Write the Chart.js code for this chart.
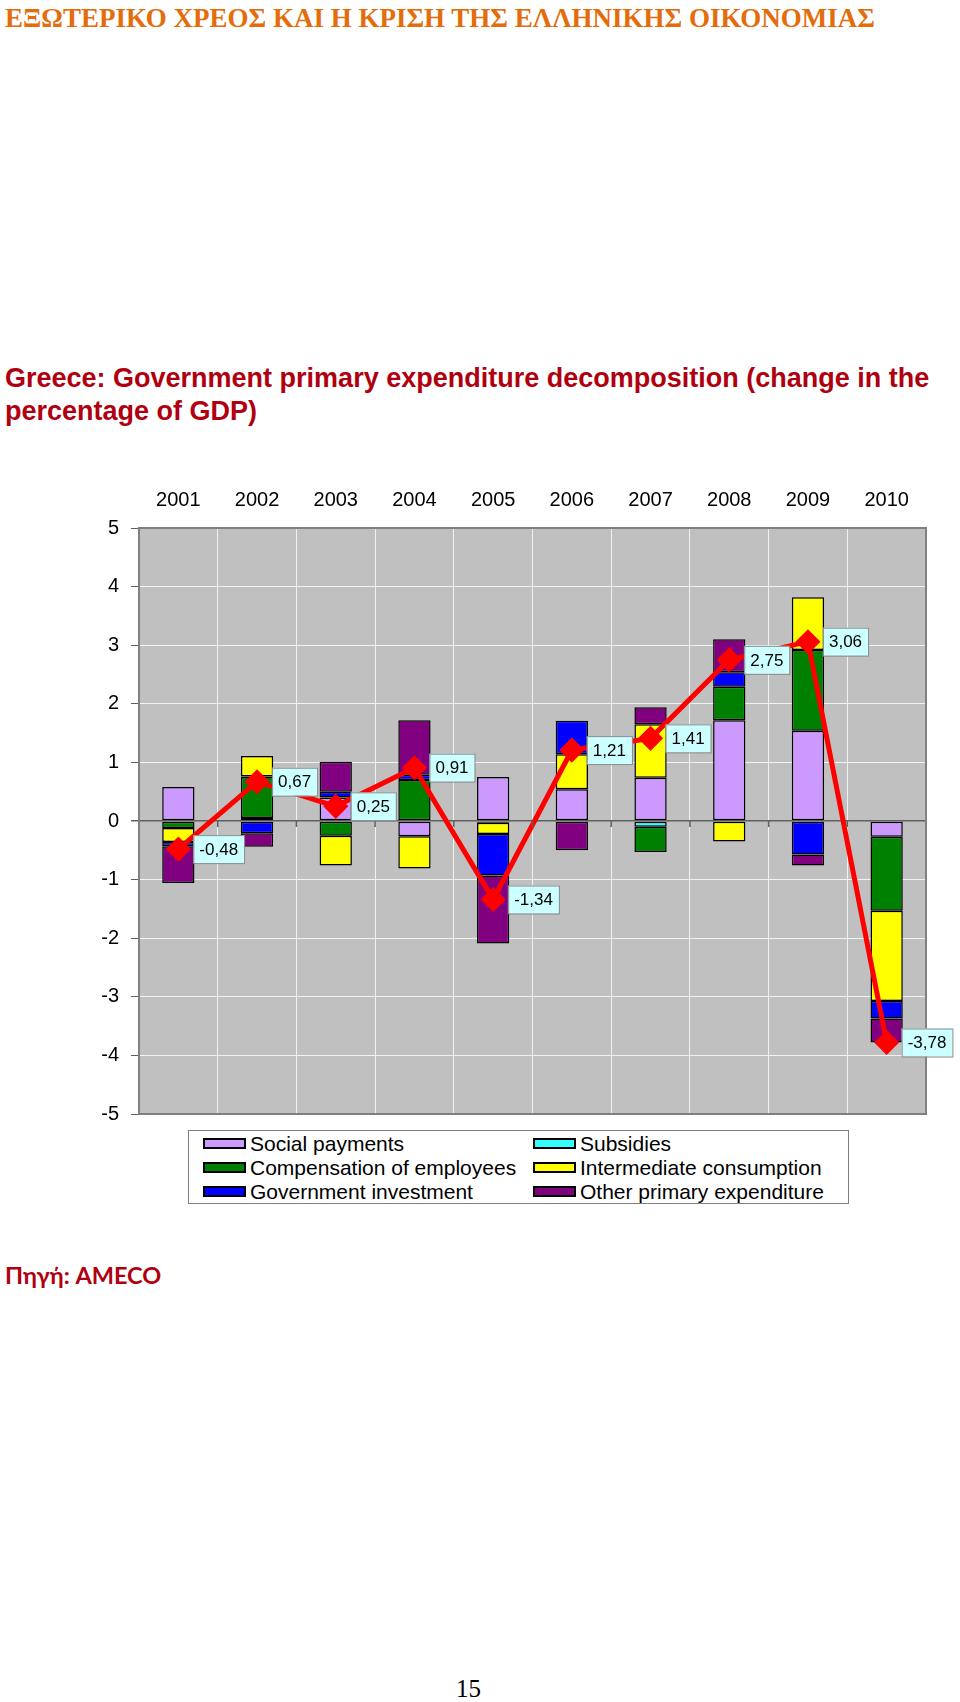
<!DOCTYPE html>
<html>
<head>
<meta charset="utf-8">
<script src="https://cdn.jsdelivr.net/npm/chart.js@4.4.0/dist/chart.umd.min.js"></script>
<style>
  body { margin: 0; background: #fff; }
  #page { position: relative; width: 960px; height: 1702px; overflow: hidden; }
  .abs { position: absolute; white-space: nowrap; }
  #header { left: 5px; top: 3px; font: bold 27px "Liberation Serif", serif; line-height: 30px; color: #E46C0A; }
  #title { left: 5px; top: 362px; font: bold 27px "Liberation Sans", Arial, sans-serif; line-height: 33px; color: #b00010; }
  #wrap { position: absolute; left: 0; top: 470px; width: 960px; height: 668px; }
  #legend { position: absolute; left: 188px; top: 1130px; width: 659px; height: 72px; border: 1px solid #808080; background: #fff;
            font: 21px "Liberation Sans", Arial, sans-serif; line-height: 24px; color: #000; }
  .item { position: absolute; height: 24px; }
  .sw { position: absolute; top: 6px; width: 39px; height: 7px; border: 2px solid #000; }
  .lt { position: absolute; left: 47px; top: 0; white-space: nowrap; }
  #source { left: 5px; top: 1260px; font: bold 23.5px Lato, "Open Sans", sans-serif; line-height: 30px; color: #b00010; }
  #pageno { left: 456px; top: 1675px; font: 25px "Liberation Serif", serif; line-height: 28px; color: #000; }
</style>
</head>
<body>
<div id="page">
  <div id="header" class="abs">ΕΞΩΤΕΡΙΚΟ ΧΡΕΟΣ ΚΑΙ Η ΚΡΙΣΗ ΤΗΣ ΕΛΛΗΝΙΚΗΣ ΟΙΚΟΝΟΜΙΑΣ</div>
  <div id="title" class="abs">Greece: Government primary expenditure decomposition (change in the<br>percentage of GDP)</div>
  <div id="wrap"><canvas id="myCanvas" width="960" height="668"></canvas></div>
  <div id="legend"></div>
  <div id="source" class="abs">Πηγή: AMECO</div>
  <div id="pageno" class="abs">15</div>
</div>
<script>
const years = ['2001', '2002', '2003', '2004', '2005', '2006', '2007', '2008', '2009', '2010'];
const socialPayments = [0.58, 0.05, 0.40, -0.26, 0.75, 0.54, 0.74, 1.72, 1.54, -0.27];
const subsidies      = [0, 0, 0, 0, 0, 0, -0.10, 0, 0, 0];
const compensation   = [-0.12, 0.71, -0.25, 0.70, -0.03, 0, -0.43, 0.57, 1.38, -1.26];
const intermediate   = [-0.24, 0.35, -0.51, -0.55, -0.19, 0.60, 0.91, -0.35, 0.90, -1.54];
const investment     = [-0.07, -0.21, 0.10, 0.09, -0.71, 0.57, 0, 0.25, -0.57, -0.30];
const otherPrimary   = [-0.63, -0.23, 0.51, 0.93, -1.16, -0.50, 0.29, 0.56, -0.19, -0.41];
const totalChange    = [-0.48, 0.67, 0.25, 0.91, -1.34, 1.21, 1.41, 2.75, 3.06, -3.78];
const yTicks = [-5, -4, -3, -2, -1, 0, 1, 2, 3, 4, 5];

// Excel series order (stacking order)
const series = [
  { label: 'Social payments', data: socialPayments, color: '#cc99ff' },
  { label: 'Subsidies', data: subsidies, color: '#33ffff' },
  { label: 'Compensation of employees', data: compensation, color: '#008000' },
  { label: 'Intermediate consumption', data: intermediate, color: '#ffff00' },
  { label: 'Government investment', data: investment, color: '#0000ff' },
  { label: 'Other primary expenditure', data: otherPrimary, color: '#800080' }
];

function init() {
  const bars = series.map(s => ({
    type: 'bar',
    label: s.label,
    data: s.data,
    backgroundColor: s.color,
    borderColor: '#000',
    borderWidth: 1.5,
    borderSkipped: false,
    barPercentage: 0.41,
    categoryPercentage: 1,
    order: 1
  }));

  const totalLine = {
    type: 'line',
    label: 'Total',
    data: totalChange,
    borderColor: '#ff0000',
    backgroundColor: '#ff0000',
    borderWidth: 5,
    pointStyle: 'rectRot',
    pointRadius: 9,
    pointBackgroundColor: '#ff0000',
    pointBorderColor: '#ff0000',
    tension: 0,
    order: 0
  };

  // grey plot background, outer border, zero-line ticks, value boxes
  const plotDeco = {
    id: 'plotDeco',
    beforeDraw(chart) {
      const a = chart.chartArea, c = chart.ctx;
      c.save();
      c.fillStyle = '#c0c0c0';
      c.fillRect(a.left, a.top, a.right - a.left, a.bottom - a.top);
      c.restore();
    },
    afterDatasetsDraw(chart) {
      const c = chart.ctx, a = chart.chartArea;
      const xs = chart.scales.x, ys = chart.scales.y;
      const y0 = ys.getPixelForValue(0);
      c.save();
      c.strokeStyle = '#606060';
      c.lineWidth = 1.5;
      for (let i = 1; i < years.length; i++) {
        const bx = (xs.getPixelForValue(i - 1) + xs.getPixelForValue(i)) / 2;
        c.beginPath(); c.moveTo(bx, y0); c.lineTo(bx, y0 + 6); c.stroke();
      }
      c.strokeStyle = '#808080';
      c.lineWidth = 2;
      c.strokeRect(a.left, a.top, a.right - a.left, a.bottom - a.top);

      const meta = chart.getDatasetMeta(chart.data.datasets.length - 1);
      c.font = '17px "Liberation Sans", Arial, sans-serif';
      c.textBaseline = 'middle';
      meta.data.forEach((pt, i) => {
        const txt = totalChange[i].toFixed(2).replace('.', ',');
        const w = c.measureText(txt).width + 12;
        const h = 28;
        const bx = pt.x + 15, by = pt.y - h / 2;
        c.fillStyle = '#ccffff';
        c.fillRect(bx, by, w, h);
        c.strokeStyle = '#8c8c8c';
        c.lineWidth = 1;
        c.strokeRect(bx + 0.5, by + 0.5, w, h);
        c.fillStyle = '#000';
        c.textAlign = 'left';
        c.fillText(txt, bx + 6, pt.y + 1);
      });
      c.restore();
    }
  };

  const ctx = document.getElementById('myCanvas').getContext('2d');
  const myChart = new Chart(ctx, {
    data: { labels: years, datasets: bars.concat([totalLine]) },
    options: {
      responsive: false,
      animation: false,
      layout: { padding: { left: 0, right: 34, top: 0, bottom: 9 } },
      plugins: {
        legend: { display: false },
        tooltip: { enabled: false }
      },
      scales: {
        x: {
          position: 'top',
          stacked: true,
          offset: true,
          grid: { color: '#f2f2f2', lineWidth: 1, offset: true, drawTicks: false },
          border: { display: false },
          ticks: { color: '#000', font: { family: '"Liberation Sans", Arial', size: 20 }, padding: 16, maxRotation: 0 },
          afterFit(s) { s.height = 58; }
        },
        y: {
          stacked: true,
          min: -5,
          max: 5,
          afterBuildTicks(s) { s.ticks = yTicks.map(v => ({ value: v })); },
          grid: {
            color: c => c.tick && c.tick.value === 0 ? '#606060' : '#f2f2f2',
            lineWidth: c => c.tick && c.tick.value === 0 ? 1.5 : 1,
            tickColor: '#606060',
            tickLength: 8
          },
          border: { display: false },
          ticks: { color: '#000', font: { family: '"Liberation Sans", Arial', size: 20 }, padding: 12 },
          afterFit(s) { s.width = 139; }
        }
      }
    },
    plugins: [plotDeco]
  });

  // legend laid out in two columns like the original
  const leg = document.getElementById('legend');
  series.forEach((s, i) => {
    const col = i % 2, row = Math.floor(i / 2);
    const it = document.createElement('div');
    it.className = 'item';
    it.style.left = (col ? 344 : 14) + 'px';
    it.style.top = (1 + row * 24) + 'px';
    it.innerHTML = '<div class="sw" style="background:' + s.color + '"></div><div class="lt">' + s.label + '</div>';
    leg.appendChild(it);
  });
}

document.addEventListener('DOMContentLoaded', init);
</script>
</body>
</html>
